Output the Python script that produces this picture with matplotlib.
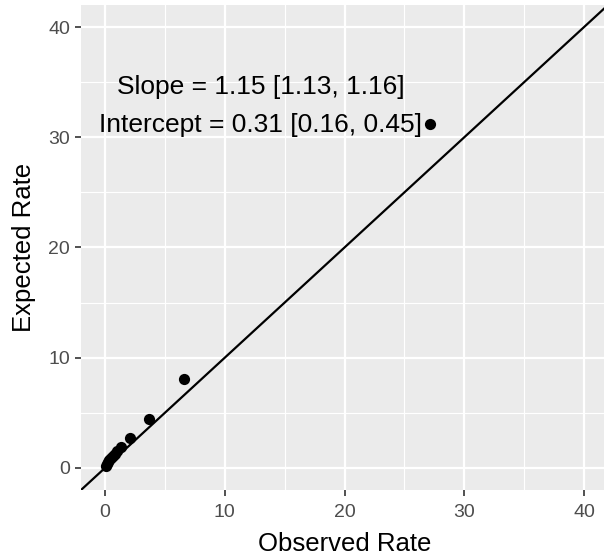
import matplotlib.pyplot as plt
import numpy as np

plt.rcParams["font.family"] = ["Liberation Sans", "DejaVu Sans"]

observed = [0.05, 0.15, 0.25, 0.35, 0.5, 0.65, 0.8, 1.0, 1.3, 2.1, 3.7, 6.6, 27.1]
expected = [0.2, 0.35, 0.5, 0.7, 0.9, 1.1, 1.3, 1.5, 1.9, 2.75, 4.4, 8.05, 31.2]
ticks = [0, 10, 20, 30, 40]
minor = [5, 15, 25, 35]
slope_text = "Slope = 1.15 [1.13, 1.16]"
intercept_text = "Intercept = 0.31 [0.16, 0.45]"

fig = plt.figure(figsize=(6.04, 5.58), dpi=100)
ax = fig.add_axes([81 / 604, 68 / 558, 527 / 604, 485 / 558])
ax.set_facecolor("#EBEBEB")
for s in ax.spines.values():
    s.set_visible(False)

ax.set_xlim(-2, 42)
ax.set_ylim(-2, 42)
ax.set_xticks(ticks)
ax.set_yticks(ticks)
ax.set_xticks(minor, minor=True)
ax.set_yticks(minor, minor=True)
ax.grid(True, which="major", color="white", linewidth=1.6)
ax.grid(True, which="minor", color="white", linewidth=0.8)
ax.set_axisbelow(True)
ax.tick_params(which="major", length=4, width=1.2, color="#333333",
               labelsize=14, labelcolor="#4D4D4D", pad=4)
ax.tick_params(axis="x", which="major", pad=6)
ax.tick_params(which="minor", length=0)

ax.axline((0, 0), slope=1, color="black", linewidth=1.6)
ax.scatter(observed, expected, s=65, color="black", zorder=3, linewidths=0)

ax.text(13, 34.6, slope_text, ha="center", va="center", fontsize=19)
ax.text(13, 31.1, intercept_text, ha="center", va="center", fontsize=19)

ax.set_xlabel("Observed Rate", fontsize=18.5, labelpad=8)
ax.set_ylabel("Expected Rate", fontsize=18.5, labelpad=9)

fig.savefig("out.png", dpi=100)
